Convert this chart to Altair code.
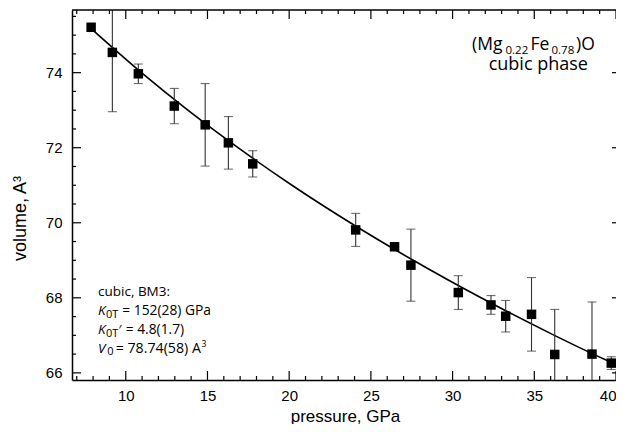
import altair as alt
import pandas as pd

# ---- data ----
pressure = [7.88, 9.18, 10.77, 12.97, 14.86, 16.28, 17.77, 24.07, 26.45, 27.45,
            30.35, 32.35, 33.25, 34.83, 36.25, 38.53, 39.71]
volume = [75.21, 74.54, 73.97, 73.11, 72.61, 72.13, 71.57, 69.81, 69.36, 68.87,
          68.14, 67.81, 67.51, 67.56, 66.49, 66.50, 66.26]
error = [0, 1.58, 0.26, 0.47, 1.10, 0.70, 0.35, 0.44, 0, 0.96,
         0.45, 0.25, 0.42, 0.98, 1.20, 1.39, 0.17]

fit_pressure = [7.81, 10.96, 13.80, 16.87, 20.17, 23.74, 27.59, 31.74, 36.23, 38.61, 39.75]
fit_volume = [75.2, 74.0, 73.0, 72.0, 71.0, 70.0, 69.0, 68.0, 67.0, 66.5, 66.27]

x_major = [10, 15, 20, 25, 30, 35, 40]
x_minor = [7, 8, 9, 11, 12, 13, 14, 16, 17, 18, 19, 21, 22, 23, 24, 26, 27, 28, 29,
           31, 32, 33, 34, 36, 37, 38, 39]
y_major = [66, 68, 70, 72, 74]
y_minor = [66.5, 67, 67.5, 68.5, 69, 69.5, 70.5, 71, 71.5, 72.5, 73, 73.5, 74.5, 75, 75.5]

# ---- tables ----
pts = pd.DataFrame({"p": pressure, "v": volume, "e": error})
pts["lo"] = pts["v"] - pts["e"]
pts["hi"] = pts["v"] + pts["e"]
errs = pts[pts["e"] > 0]
fit = pd.DataFrame({"p": fit_pressure, "v": fit_volume})

W, H = 544, 370
xs = alt.Scale(domain=[6.71, 40.0], nice=False, zero=False)
ys = alt.Scale(domain=[65.81, 75.67], nice=False, zero=False)
AXF = "Liberation Sans"
ANF = "Open Sans"

xaxis = alt.Axis(values=x_major, title="pressure, GPa", ticks=False, grid=False,
                 domain=True, domainColor="black", domainWidth=1.5,
                 labelFont=AXF, labelFontSize=15, labelColor="black", labelPadding=8,
                 labelFlush=4, labelFlushOffset=0,
                 titleFont=AXF, titleFontSize=17, titleFontWeight="normal",
                 titleColor="black", titleX=273, titleY=41, titleBaseline="alphabetic")
yaxis = alt.Axis(values=y_major, title="volume, A³", ticks=False, grid=False,
                 domain=True, domainColor="black", domainWidth=1.5,
                 labelFont=AXF, labelFontSize=15, labelColor="black", labelPadding=10,
                 titleFont=AXF, titleFontSize=18, titleFontWeight="normal",
                 titleColor="black", titleAngle=270, titleX=-47, titleY=208,
                 titleAlign="center", titleBaseline="alphabetic")

def X(f):
    return alt.X(f, scale=xs, axis=xaxis)

def Y(f):
    return alt.Y(f, scale=ys, axis=yaxis)

line = alt.Chart(fit).mark_line(color="black", strokeWidth=1.6, interpolate="monotone").encode(
    x=X("p:Q"), y=Y("v:Q"))

bars = alt.Chart(errs).mark_rule(color="#333333", strokeWidth=1.1, clip=True).encode(
    x=X("p:Q"), y=Y("lo:Q"), y2="hi:Q")
cap_lo = alt.Chart(errs).mark_tick(color="#333333", orient="horizontal", size=9,
                                   thickness=1.1, clip=True).encode(x=X("p:Q"), y=Y("lo:Q"))
cap_hi = alt.Chart(errs).mark_tick(color="#333333", orient="horizontal", size=9,
                                   thickness=1.1, clip=True).encode(x=X("p:Q"), y=Y("hi:Q"))
squares = alt.Chart(pts).mark_square(color="black", size=90, opacity=1).encode(
    x=X("p:Q"), y=Y("v:Q"))

# ---- inward ticks on all sides ----
def xticks(vals, y0, y1):
    return alt.Chart(pd.DataFrame({"t": vals})).mark_rule(color="black", strokeWidth=1.2).encode(
        x=X("t:Q"), y=alt.value(y0), y2=alt.value(y1))

def yticks(vals, x0, x1):
    return alt.Chart(pd.DataFrame({"t": vals})).mark_rule(color="black", strokeWidth=1.2).encode(
        y=Y("t:Q"), x=alt.value(x0), x2=alt.value(x1))

tick_layers = [
    xticks(x_major, H, H - 9), xticks(x_minor, H, H - 4),
    xticks(x_major, 0, 9), xticks(x_minor, 0, 4),
    yticks(y_major, 0, 9), yticks(y_minor, 0, 4),
    yticks(y_major, W - 4, W),
]
top_line = alt.Chart(pd.DataFrame({"a": [0]})).mark_rule(color="black", strokeWidth=1.5).encode(
    x=alt.value(0), x2=alt.value(W), y=alt.value(0))

# ---- annotations ----
def txt(s, x, y, size, italic=False, align="left", font=ANF):
    return alt.Chart(pd.DataFrame({"s": [s]})).mark_text(
        x=x, y=y, fontSize=size, font=font, align=align, baseline="alphabetic",
        fontStyle="italic" if italic else "normal", color="black").encode(text="s:N")

notes = [
    txt("(Mg", 400, 40, 17.5),
    txt("0.22", 433.5, 44, 11.5),
    txt("Fe", 458.5, 40, 17.5),
    txt("0.78", 479.5, 44, 11.5),
    txt(")O", 504, 40, 17.5),
    txt("cubic phase", 466.3, 60, 18, align="center"),
    txt("cubic, BM3:", 26, 286, 13.5),
    txt("K", 26, 305.3, 13.5, italic=True),
    txt("0T", 34, 307.5, 11),
    txt("= 152(28) GPa", 50.3, 305.3, 13.8),
    txt("K", 26, 324.3, 13.5, italic=True),
    txt("0T", 34, 326.5, 11),
    txt("′", 46.5, 324.3, 13),
    txt("= 4.8(1.7)", 53.7, 324.3, 13.8),
    txt("V", 26, 342.7, 13.5, italic=True),
    txt("0", 35.3, 345, 11),
    txt("= 78.74(58) A", 43.7, 342.7, 14.2),
    txt("3", 129.5, 337, 8.5),
]

chart = alt.layer(line, bars, cap_lo, cap_hi, squares, *tick_layers, top_line, *notes).properties(
    width=W, height=H,
    autosize=alt.AutoSizeParams(type="none"),
    padding={"left": 64, "top": 2, "right": 0, "bottom": 44},
    background="white",
).configure_view(stroke=None)

chart.save("out.html", embed_options={"renderer": "svg", "actions": False})
